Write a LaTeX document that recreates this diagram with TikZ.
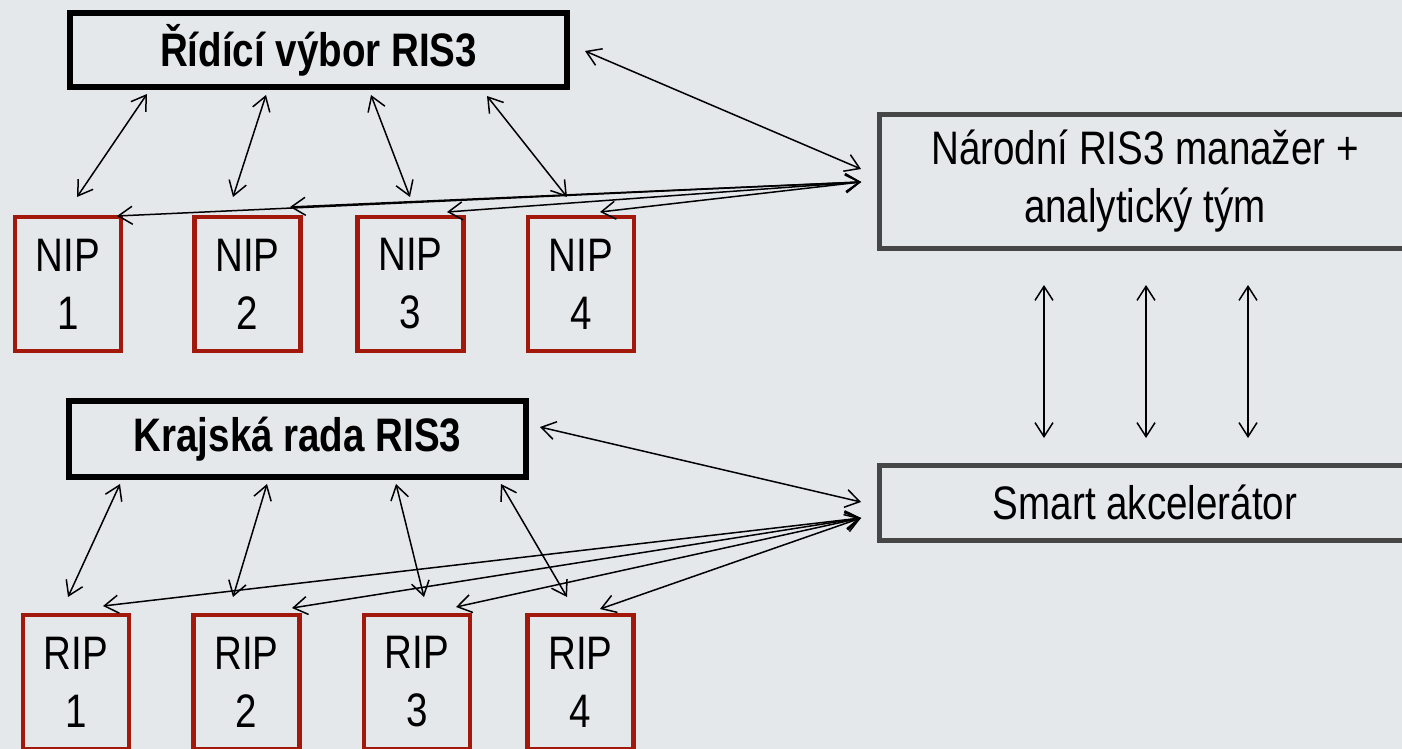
\documentclass[tikz,border=0pt]{standalone}
\usepackage{fontspec}
\setmainfont[FakeStretch=0.82]{Liberation Sans}
\usetikzlibrary{arrows.meta,calc}
\definecolor{bgc}{HTML}{E4E8EB}
\definecolor{redb}{HTML}{A2190C}
\definecolor{grayb}{HTML}{464646}
\begin{document}
\begin{tikzpicture}[x=1pt,y=-1pt,
  txt/.style={font=\fontsize{47}{58}\selectfont, align=center, inner sep=0pt, outer sep=0pt},
  blackbox/.style={txt, draw=black, line width=5.5pt, font=\fontsize{47}{58}\selectfont\bfseries},
  redbox/.style={txt, draw=redb, line width=4.5pt, minimum width=106pt, minimum height=134pt},
  graybox/.style={txt, draw=grayb, line width=5pt, minimum width=532pt},
  link/.style={line width=1.5pt, {Straight Barb[length=14pt,width=18pt]}-{Straight Barb[length=14pt,width=18pt]}}
]
\useasboundingbox (0,0) rectangle (1402,749);
\fill[bgc] (0,0) rectangle (1402,749);

% boxes
\node[blackbox, minimum width=497pt, minimum height=74pt] (rid) at (318.5,50) {Řídící výbor RIS3};
\node[blackbox, minimum width=457pt, minimum height=76pt] (kraj) at (297.5,439) {Krajská rada RIS3};
\node[graybox, minimum height=133pt] (nar) at (1145,181.5) {Národní RIS3 manažer +\\analytický tým};
\node[graybox, minimum height=75pt] (smart) at (1145,502.5) {Smart akcelerátor};

\node[redbox] (nip1) at (68,284) {NIP\\1};
\node[redbox] (nip2) at (247.5,284) {NIP\\2};
\node[redbox] (nip3) at (410.5,284) {NIP\\3};
\node[redbox] (nip4) at (581,284) {NIP\\4};

\node[redbox] (rip1) at (76,682) {RIP\\1};
\node[redbox] (rip2) at (246.5,682) {RIP\\2};
\node[redbox] (rip3) at (417,682) {RIP\\3};
\node[redbox] (rip4) at (580.5,682) {RIP\\4};

% Řídící výbor <-> NIP
\draw[link] ($(rid)+(-171.5,44)$) -- ($(nip1)+(9,-87)$);
\draw[link] ($(rid)+(-52.5,45)$) -- ($(nip2)+(-14.5,-87)$);
\draw[link] ($(rid)+(52.5,45)$) -- ($(nip3)+(-0.5,-87)$);
\draw[link] ($(rid)+(168.5,46)$) -- ($(nip4)+(-14,-87)$);

% Řídící výbor <-> Národní
\draw[link] ($(rid)+(266.5,1)$) -- ($(nar)+(-284,-12.5)$);

% Národní <-> NIP
\draw[link] ($(nar)+(-284,0.5)$) -- ($(nip1)+(49,-68)$);
\draw[link] ($(nar)+(-284,0.5)$) -- ($(nip2)+(42.5,-77)$);
\draw[link] ($(nar)+(-284,0.5)$) -- ($(nip3)+(36.5,-72)$);
\draw[link] ($(nar)+(-284,0.5)$) -- ($(nip4)+(19,-72)$);

% Národní <-> Smart
\draw[link] ($(nar)+(-101,103.5)$) -- ($(smart)+(-101,-64.5)$);
\draw[link] ($(nar)+(1,103.5)$) -- ($(smart)+(1,-64.5)$);
\draw[link] ($(nar)+(103,103.5)$) -- ($(smart)+(103,-64.5)$);

% Krajská rada <-> RIP
\draw[link] ($(kraj)+(-177.5,45)$) -- ($(rip1)+(-8,-85)$);
\draw[link] ($(kraj)+(-30.5,45)$) -- ($(rip2)+(-13.5,-85)$);
\draw[link] ($(kraj)+(98.5,45)$) -- ($(rip3)+(7,-85)$);
\draw[link] ($(kraj)+(203.5,45)$) -- ($(rip4)+(-13.5,-85)$);

% Krajská rada <-> Smart
\draw[link] ($(kraj)+(242.5,-12)$) -- ($(smart)+(-284,-0.5)$);

% Smart <-> RIP
\draw[link] ($(smart)+(-284,15.5)$) -- ($(rip1)+(27,-76)$);
\draw[link] ($(smart)+(-284,15.5)$) -- ($(rip2)+(45.5,-74)$);
\draw[link] ($(smart)+(-284,15.5)$) -- ($(rip3)+(39,-75)$);
\draw[link] ($(smart)+(-284,15.5)$) -- ($(rip4)+(19.5,-73)$);
\end{tikzpicture}
\end{document}
